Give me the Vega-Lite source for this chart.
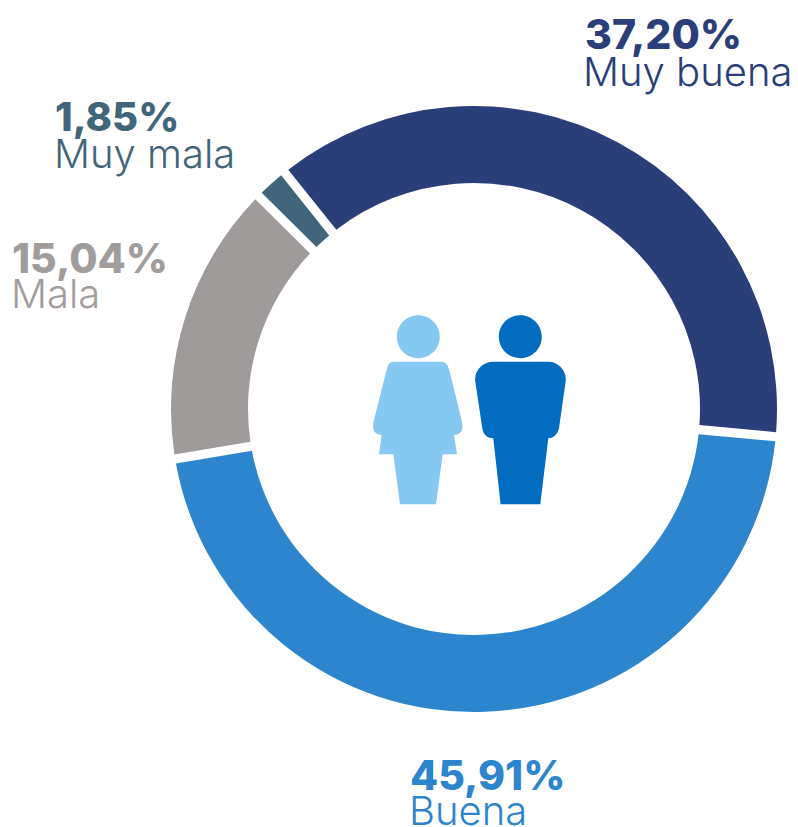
{"$schema":"https://vega.github.io/schema/vega-lite/v6.json","width":798,"height":827,"padding":0,"autosize":{"type":"none"},"background":"white","view":{"stroke":null},
"datasets":{"slices":[{"categoria":"Muy buena","valor":37.20,"orden":1},{"categoria":"Buena","valor":45.91,"orden":2},{"categoria":"Mala","valor":15.04,"orden":3},{"categoria":"Muy mala","valor":1.85,"orden":4}]},
"layer":[
{"data":{"name":"slices"},"mark":{"type":"arc","radius":303,"radius2":226,"padAngle":0.024},"encoding":{"x":{"datum":474,"type":"quantitative","scale":{"domain":[0,798],"nice":false,"zero":false},"axis":null},"y":{"datum":409,"type":"quantitative","scale":{"domain":[827,0],"nice":false,"zero":false},"axis":null},"theta":{"field":"valor","type":"quantitative","stack":true,"scale":{"domain":[0,100],"range":[-0.675,5.608]}},"order":{"field":"orden"},"color":{"field":"categoria","type":"nominal","legend":null,"scale":{"domain":["Muy buena","Buena","Mala","Muy mala"],"range":["#2A3F7A","#2D85CD","#9E9B9A","#41657B"]}}}},
{"data":{"values":[{"persona":"Mujer"}]},"mark":{"type":"point","filled":true,"opacity":1,"size":4,"color":"#85C8F2","shape":"M -21.5 -72.3 A 21.5 21.5 0 1 1 21.5 -72.3 A 21.5 21.5 0 1 1 -21.5 -72.3 Z M -25 -47.3 L 23.3 -47.3 Q 29 -47.3 31 -39 L 43.3 11 Q 47 25 35.7 26 L 38.7 45.3 L 24.3 45.3 L 17.7 95.3 L -18.3 95.3 L -25 45.3 L -39.3 45.3 L -36.7 26 Q -48 25 -44.3 11 L -31.7 -39 Q -30 -47.3 -25 -47.3 Z"},"encoding":{"x":{"datum":418.3,"type":"quantitative"},"y":{"datum":409,"type":"quantitative"}}},
{"data":{"values":[{"persona":"Hombre"}]},"mark":{"type":"point","filled":true,"opacity":1,"size":4,"color":"#016CC0","shape":"M -21.5 -72.3 A 21.5 21.5 0 1 1 21.5 -72.3 A 21.5 21.5 0 1 1 -21.5 -72.3 Z M -27 -47.3 L 28 -47.3 C 38 -47.3 47 -38 45.3 -27.3 L 38.7 19.3 C 37 26 33 29.3 28 29.3 L 20 95.3 L -19.7 95.3 L -27 29.3 C -33 29.3 -37 26 -38 19.3 L -45 -27.3 C -46.5 -38 -38 -47.3 -27 -47.3 Z"},"encoding":{"x":{"datum":520.3,"type":"quantitative"},"y":{"datum":409,"type":"quantitative"}}},
{"data":{"values":[{"t":"37,20%"}]},"mark":{"type":"text","align":"left","baseline":"alphabetic","font":"Inter","fontWeight":800,"fontSize":41,"color":"#2A3F7A"},"encoding":{"text":{"field":"t"},"x":{"datum":585,"type":"quantitative"},"y":{"datum":49,"type":"quantitative"}}},
{"data":{"values":[{"t":"Muy buena"}]},"mark":{"type":"text","align":"left","baseline":"alphabetic","font":"Inter","fontWeight":300,"fontSize":40,"color":"#2A3F7A"},"encoding":{"text":{"field":"t"},"x":{"datum":583,"type":"quantitative"},"y":{"datum":86,"type":"quantitative"}}},
{"data":{"values":[{"t":"1,85%"}]},"mark":{"type":"text","align":"left","baseline":"alphabetic","font":"Inter","fontWeight":800,"fontSize":40,"color":"#41657B"},"encoding":{"text":{"field":"t"},"x":{"datum":55,"type":"quantitative"},"y":{"datum":131,"type":"quantitative"}}},
{"data":{"values":[{"t":"Muy mala"}]},"mark":{"type":"text","align":"left","baseline":"alphabetic","font":"Inter","fontWeight":300,"fontSize":40,"color":"#41657B"},"encoding":{"text":{"field":"t"},"x":{"datum":54,"type":"quantitative"},"y":{"datum":168,"type":"quantitative"}}},
{"data":{"values":[{"t":"15,04%"}]},"mark":{"type":"text","align":"left","baseline":"alphabetic","font":"Inter","fontWeight":800,"fontSize":41,"color":"#A09D9C"},"encoding":{"text":{"field":"t"},"x":{"datum":12,"type":"quantitative"},"y":{"datum":273,"type":"quantitative"}}},
{"data":{"values":[{"t":"Mala"}]},"mark":{"type":"text","align":"left","baseline":"alphabetic","font":"Inter","fontWeight":300,"fontSize":40,"color":"#A09D9C"},"encoding":{"text":{"field":"t"},"x":{"datum":11,"type":"quantitative"},"y":{"datum":308,"type":"quantitative"}}},
{"data":{"values":[{"t":"45,91%"}]},"mark":{"type":"text","align":"left","baseline":"alphabetic","font":"Inter","fontWeight":800,"fontSize":41,"color":"#2D85CD"},"encoding":{"text":{"field":"t"},"x":{"datum":410,"type":"quantitative"},"y":{"datum":790,"type":"quantitative"}}},
{"data":{"values":[{"t":"Buena"}]},"mark":{"type":"text","align":"left","baseline":"alphabetic","font":"Inter","fontWeight":300,"fontSize":40,"color":"#2D85CD"},"encoding":{"text":{"field":"t"},"x":{"datum":409,"type":"quantitative"},"y":{"datum":825,"type":"quantitative"}}}
]}
